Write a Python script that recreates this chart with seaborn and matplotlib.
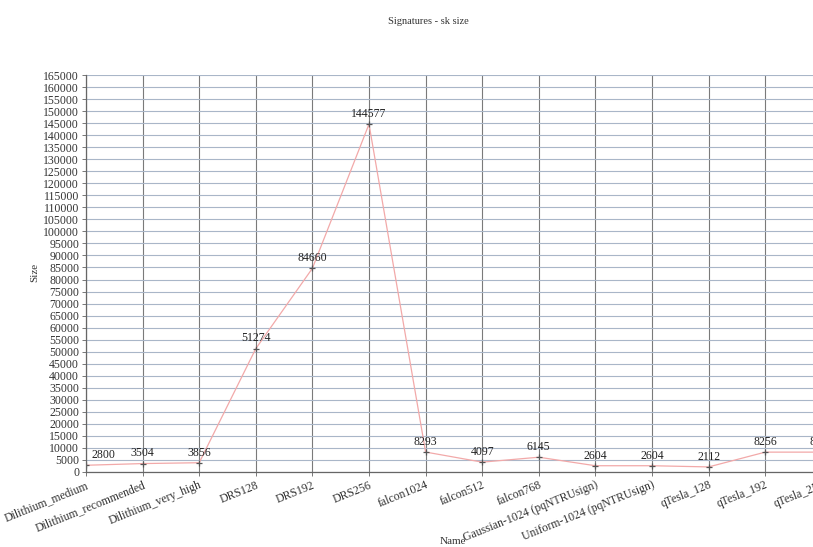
import matplotlib
matplotlib.use("Agg")
import matplotlib.pyplot as plt
import seaborn as sns
import pandas as pd

names = [
    "Dilithium_medium", "Dilithium_recommended", "Dilithium_very_high",
    "DRS128", "DRS192", "DRS256",
    "falcon1024", "falcon512", "falcon768",
    "Gaussian-1024 (pqNTRUsign)", "Uniform-1024 (pqNTRUsign)",
    "qTesla_128", "qTesla_192", "qTesla_256",
]
sizes = [2800, 3504, 3856, 51274, 84660, 144577, 8293, 4097, 6145,
         2604, 2604, 2112, 8256, 8256]
y_ticks = list(range(0, 165001, 5000))

sns.set_theme(style="white")
plt.rcParams["font.family"] = ["Liberation Serif", "DejaVu Serif"]

W, H = 813, 547
fig = plt.figure(figsize=(W / 100, H / 100), dpi=100)
# plot area runs on past the right edge of the canvas
left_px, right_px, top_px, bottom_px = 86, 850, 75, 472
ax = fig.add_axes([left_px / W, (H - bottom_px) / H,
                   (right_px - left_px) / W, (bottom_px - top_px) / H])

df = pd.DataFrame({"Name": names, "Size": sizes})
sns.lineplot(data=df, x="Name", y="Size", sort=False, ax=ax,
             color="#f2a9a9", linewidth=0.9, marker="+", markersize=5,
             markeredgecolor="#555555", markeredgewidth=0.9)

ax.set_xlim(0, (right_px - left_px) / 56.6)
ax.set_ylim(0, 165000)
ax.set_yticks(y_ticks)
ax.set_yticklabels([str(v) for v in y_ticks], fontsize=8.5, color="#333333")
ax.set_xticks(range(len(names)))
ax.set_xticklabels(names, rotation=22, ha="right", va="top",
                   rotation_mode="anchor", fontsize=8.5, color="#333333")

ax.grid(axis="y", color="#a9b6c8", linewidth=0.8)
ax.grid(axis="x", color="#7a7a7a", linewidth=0.8)
ax.set_axisbelow(True)
ax.tick_params(axis="both", length=3, width=0.7, color="#777777", pad=2)
ax.tick_params(axis="y", left=True)
ax.tick_params(axis="x", bottom=True)
for side in ("left", "bottom"):
    ax.spines[side].set_color("#666666")
    ax.spines[side].set_linewidth(0.9)
ax.spines["top"].set_visible(False)
ax.spines["right"].set_visible(False)

for i, v in enumerate(sizes):
    if i == 0:
        ax.annotate(str(v), (i, v), xytext=(4, 3), textcoords="offset points",
                    ha="left", va="bottom", fontsize=8.5, color="#222222")
    else:
        ax.annotate(str(v), (i, v), xytext=(0, 3), textcoords="offset points",
                    ha="center", va="bottom", fontsize=8.5, color="#222222")

ax.set_xlabel("")
ax.set_ylabel("")
fig.text(428 / W, 1 - 22 / H, "Signatures - sk size", ha="center",
         va="center", fontsize=7.5, color="#333333")
fig.text(35 / W, 1 - 272 / H, "Size", rotation=90, ha="center",
         va="center", fontsize=8, color="#333333")
fig.text(453 / W, 1 - 541 / H, "Name", ha="center", va="center",
         fontsize=8, color="#333333")

fig.savefig("out.png", dpi=100)
